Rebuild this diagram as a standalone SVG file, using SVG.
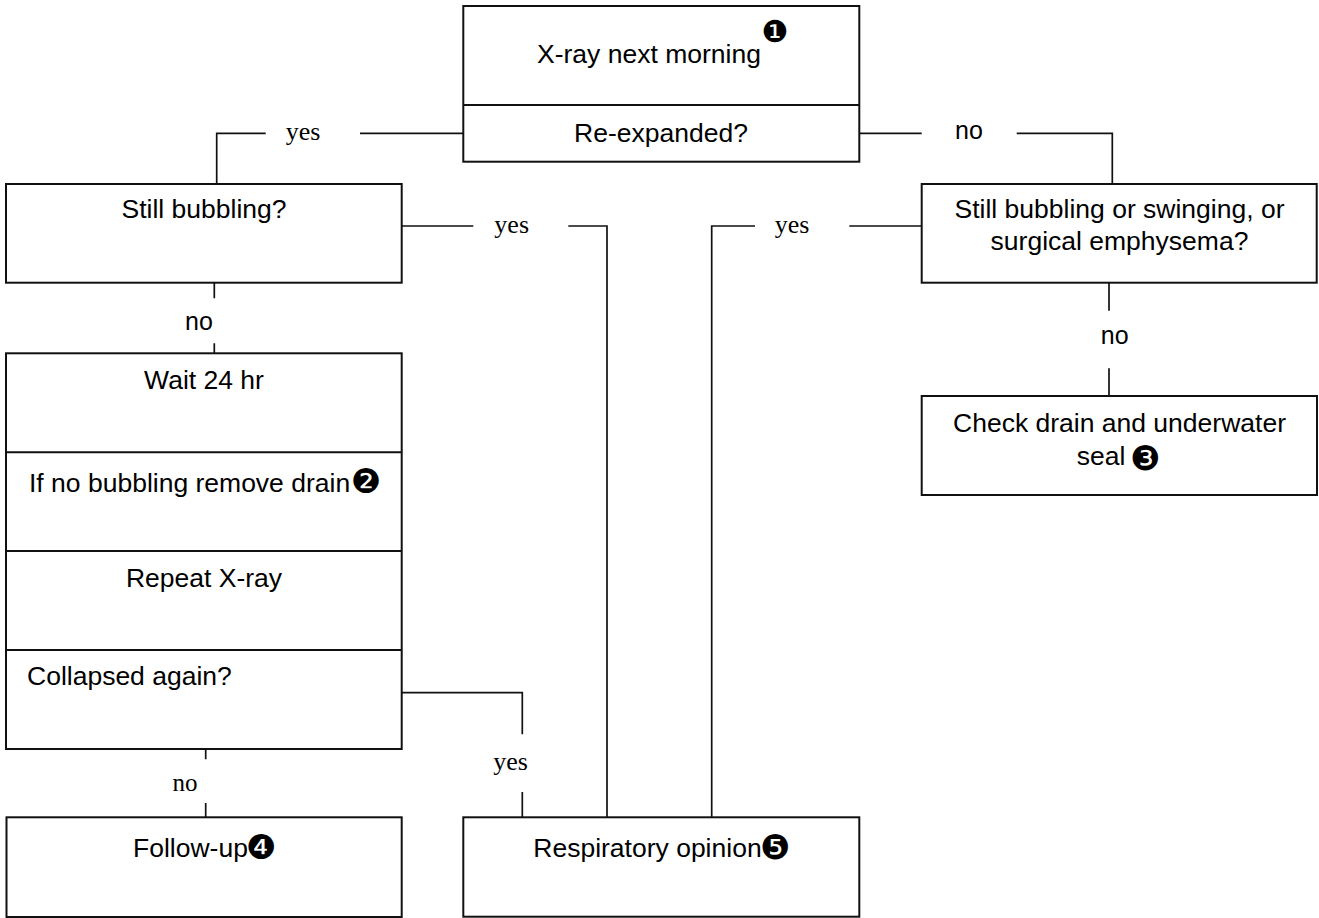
<svg xmlns="http://www.w3.org/2000/svg" width="1319" height="918" viewBox="0 0 1319 918">
<style>
  .box { fill: #ffffff; stroke: #111111; stroke-width: 2; }
  .div { stroke: #111111; stroke-width: 2; fill: none; }
  .conn { stroke: #111111; stroke-width: 1.7; fill: none; }
  .t { font-family: "Liberation Sans", Arial, sans-serif; font-size: 26.5px; fill: #000000; }
  .c { text-anchor: middle; }
  .num { font-family: "DejaVu Sans", sans-serif; font-size: 34px; }
  .ly { font-family: "Liberation Serif", "Times New Roman", serif; font-size: 26px; fill: #000000; text-anchor: middle; }
  .ln { font-family: "Liberation Sans", Arial, sans-serif; font-size: 25px; fill: #000000; text-anchor: middle; }
  .lns { font-family: "Liberation Serif", "Times New Roman", serif; font-size: 25px; fill: #000000; text-anchor: middle; }
</style>
<rect width="1319" height="918" fill="#ffffff"/>

<g id="connectors">
  <path class="conn" d="M463.3 133.3 H360 M265.7 133.3 H216.7 V184"/>
  <path class="conn" d="M859.3 133.3 H921.7 M1016.7 133.3 H1112.3 V184"/>
  <path class="conn" d="M401.7 226 H473.3 M568.3 226 H607 V817.3"/>
  <path class="conn" d="M921.7 226 H849.3 M755 226 H711.7 V817.3"/>
  <path class="conn" d="M214.3 282.7 V298.3 M214.3 343.3 V353.3"/>
  <path class="conn" d="M1109 282.7 V310.7 M1109 368.3 V396"/>
  <path class="conn" d="M401.7 692.7 H522.3 V734.3 M522.3 792 V817.3"/>
  <path class="conn" d="M205.7 749 V759.3 M205.7 803 V817.3"/>
  <text class="ly" x="303" y="140">yes</text>
  <text class="ln" x="969" y="139.3">no</text>
  <text class="ly" x="511.7" y="233">yes</text>
  <text class="ly" x="792" y="233">yes</text>
  <text class="ln" x="199" y="330">no</text>
  <text class="ln" x="1114.7" y="344">no</text>
  <text class="ly" x="510.5" y="770">yes</text>
  <text class="lns" x="185" y="790.7">no</text>
</g>

<g id="xray">
  <rect class="box" x="463.3" y="6" width="396" height="155.7"/>
  <line class="div" x1="463.3" y1="105" x2="859.3" y2="105"/>
  <text class="t" x="537" y="63">X-ray next morning<tspan class="num" style="font-size:30px" x="775" y="42" text-anchor="middle">❶</tspan></text>
  <text class="t c" x="661" y="142">Re-expanded?</text>
</g>

<g id="still-bubbling">
  <rect class="box" x="6" y="184" width="395.7" height="98.7"/>
  <text class="t c" x="204" y="218.3">Still bubbling?</text>
</g>

<g id="still-bubbling-swinging">
  <rect class="box" x="921.7" y="184" width="395" height="98.7"/>
  <text class="t c" x="1119.5" y="218.3">Still bubbling or swinging, or</text>
  <text class="t c" x="1119.5" y="250">surgical emphysema?</text>
</g>

<g id="check-drain">
  <rect class="box" x="921.7" y="396" width="395.3" height="99"/>
  <text class="t c" x="1119.5" y="431.7">Check drain and underwater</text>
  <text class="t" x="1076.7" y="465">seal <tspan class="num" x="1145.5" y="469.5" text-anchor="middle">❸</tspan></text>
</g>

<g id="left-stack">
  <rect class="box" x="6" y="353.3" width="395.7" height="395.7"/>
  <line class="div" x1="6" y1="452.3" x2="401.7" y2="452.3"/>
  <line class="div" x1="6" y1="551" x2="401.7" y2="551"/>
  <line class="div" x1="6" y1="650" x2="401.7" y2="650"/>
  <text class="t c" x="204" y="389">Wait 24 hr</text>
  <text class="t" x="29" y="491.7">If no bubbling remove drain<tspan class="num" x="366" y="493" text-anchor="middle">❷</tspan></text>
  <text class="t c" x="204" y="586.7">Repeat X-ray</text>
  <text class="t" x="27" y="685">Collapsed again?</text>
</g>

<g id="follow-up">
  <rect class="box" x="6.5" y="817.3" width="395.2" height="99.7"/>
  <text class="t" x="133" y="856.7">Follow-up<tspan class="num" x="261.3" y="858.7" text-anchor="middle">❹</tspan></text>
</g>

<g id="respiratory">
  <rect class="box" x="463.3" y="817.3" width="396" height="99.4"/>
  <text class="t" x="533.3" y="856.7">Respiratory opinion<tspan class="num" x="775" y="858.7" text-anchor="middle">❺</tspan></text>
</g>
</svg>
